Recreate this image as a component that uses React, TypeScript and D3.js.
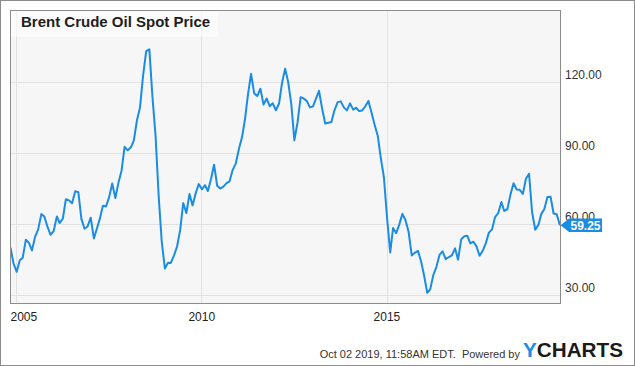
import React from 'react';
import * as d3 from 'd3';

// ---- data (monthly average Brent spot, USD/bbl), first value = Oct 2004 ----
const firstMonth = new Date(2004, 9, 1);
const brentMonthly: number[] = [
  // 2004 Oct-Dec
  49.78, 43.11, 39.6,
  // 2005
  44.51, 45.48, 53.1, 51.88, 48.65, 54.35, 57.52, 63.98, 62.91, 58.54, 55.24, 56.86,
  // 2006
  62.99, 60.21, 62.06, 70.26, 69.78, 68.56, 73.67, 73.23, 61.96, 57.81, 58.76, 62.47,
  // 2007
  53.68, 57.56, 62.05, 67.49, 67.21, 71.05, 76.93, 70.76, 77.17, 82.34, 92.41, 90.93,
  // 2008
  92.18, 94.99, 103.64, 109.07, 122.8, 132.8, 133.6, 113.24, 97.23, 71.58, 52.45, 41.0,
  // 2009
  43.44, 43.32, 46.54, 50.18, 57.3, 68.61, 64.44, 72.51, 67.65, 72.77, 76.66, 74.46,
  // 2010
  76.17, 73.75, 78.83, 84.82, 75.95, 74.76, 75.58, 77.04, 77.84, 82.67, 85.28, 91.45,
  // 2011
  96.52, 103.72, 114.64, 123.26, 114.99, 113.83, 116.97, 110.22, 112.83, 109.55, 110.77, 107.87,
  // 2012
  110.69, 119.33, 125.45, 119.75, 110.34, 95.16, 102.62, 113.36, 112.86, 111.71, 109.06, 109.49,
  // 2013
  112.96, 116.05, 108.47, 102.25, 102.56, 102.92, 107.93, 111.28, 111.6, 109.08, 107.79, 110.76,
  // 2014
  108.12, 108.9, 107.48, 107.76, 109.54, 111.8, 106.77, 101.61, 97.09, 87.43, 79.44, 62.34,
  // 2015
  47.76, 58.1, 55.89, 59.52, 64.08, 61.48, 56.56, 46.52, 47.62, 48.43, 44.27, 38.01,
  // 2016
  30.7, 32.18, 38.21, 41.58, 46.74, 48.25, 44.95, 45.84, 46.57, 49.52, 44.73, 53.31,
  // 2017
  54.58, 54.87, 51.59, 52.31, 50.33, 46.37, 48.48, 51.7, 56.15, 57.51, 62.71, 64.37,
  // 2018
  69.08, 65.32, 66.02, 72.11, 76.98, 74.41, 74.25, 72.53, 78.89, 81.03, 64.75, 57.36,
  // 2019 Jan-Aug
  59.41, 63.96, 66.14, 71.23, 71.32, 64.22, 63.92, 59.25,
];
const lastValue = 59.25;
const yTicks = [30, 60, 90, 120];
const xTickYears = [2005, 2010, 2015];
const titleText = 'Brent Crude Oil Spot Price';
const footerText = 'Oct 02 2019, 11:58AM EDT.  Powered by';

const W = 635;
const H = 366;
const FONT = '"Liberation Sans", Arial, Helvetica, sans-serif';
const BLUE = '#1a8ce4';

export default function App() {
  const left = 10.5, right = 560.5, top = 10.5, bottom = 303.5;

  const x = d3.scaleTime()
    .domain([new Date(2004, 10, 1), new Date(2019, 8, 7)])
    .range([left, right]);
  const y = d3.scaleLinear().domain([26.2, 150]).range([bottom, top]);

  const points = brentMonthly.map((v, i) => ({
    date: d3.timeMonth.offset(firstMonth, i + 1),
    value: v,
  }));

  const line = d3.line<{ date: Date; value: number }>()
    .x(d => x(d.date))
    .y(d => y(d.value));

  const yv = y(lastValue);

  return (
    <svg width={W} height={H} style={{ position: 'absolute', left: 0, top: 0, background: '#fff' }}
      fontFamily={FONT}>
      <defs>
        <clipPath id="plotClip">
          <rect x={left} y={top} width={right - left} height={bottom - top} />
        </clipPath>
      </defs>
      <rect x={0.5} y={0.5} width={W - 1} height={H - 1} fill="#fff" stroke="#8c8c8c" />
      <rect x={left} y={top} width={right - left} height={bottom - top} fill="#f6f6f6" />

      {/* grid */}
      {yTicks.map(t => (
        <line key={'gy' + t} x1={left} x2={right} y1={Math.round(y(t)) + 0.5} y2={Math.round(y(t)) + 0.5}
          stroke="#e2e2e2" />
      ))}
      {xTickYears.map(yr => {
        const gx = Math.floor(x(new Date(yr, 0, 1))) + 0.5;
        return <line key={'gx' + yr} x1={gx} x2={gx} y1={top} y2={bottom} stroke="#e2e2e2" />;
      })}

      {/* title box */}
      <rect x={left + 0.5} y={top + 0.5} width={207} height={25.5} fill="#fff" fillOpacity={0.6} />
      <text x={21} y={27} fontSize={15} fontWeight="bold" fill="#1e1e1e">{titleText}</text>

      {/* line */}
      <path d={line(points) || ''} fill="none" stroke={BLUE} strokeWidth={2} strokeLinejoin="round"
        clipPath="url(#plotClip)" />

      {/* plot border */}
      <rect x={left} y={top} width={right - left} height={bottom - top} fill="none" stroke="#8c8c8c" />

      {/* y axis labels */}
      {yTicks.map(t => (
        <text key={'ly' + t} x={565} y={y(t) - 2.3} fontSize={12} fill="#333">{t.toFixed(2)}</text>
      ))}

      {/* x axis labels */}
      {xTickYears.map(yr => {
        const cx = x(new Date(yr, 0, 1));
        const w = 27;
        const start = Math.max(left, cx - w / 2);
        return (
          <text key={'lx' + yr} x={start} y={321} fontSize={12} fill="#222">{String(yr)}</text>
        );
      })}

      {/* last value badge */}
      <path d={`M${right},${yv} L${right + 8.5},${yv - 6.8} L${602},${yv - 6.8} L${602},${yv + 6.8} L${right + 8.5},${yv + 6.8} Z`}
        fill={BLUE} />
      <text x={570.5} y={yv + 4.3} fontSize={12} fontWeight="bold" fill="#fff">{lastValue.toFixed(2)}</text>

      {/* footer */}
      <text x={520} y={357.5} fontSize={11} fill="#333" textAnchor="end" style={{ whiteSpace: 'pre' }}>
        {footerText}
      </text>
      <text x={523} y={356.7} fontSize={19.5} fontWeight="bold" textLength={100} lengthAdjust="spacingAndGlyphs">
        <tspan fill={BLUE}>Y</tspan>
        <tspan fill="#1b1b1b">CHARTS</tspan>
      </text>
    </svg>
  );
}
